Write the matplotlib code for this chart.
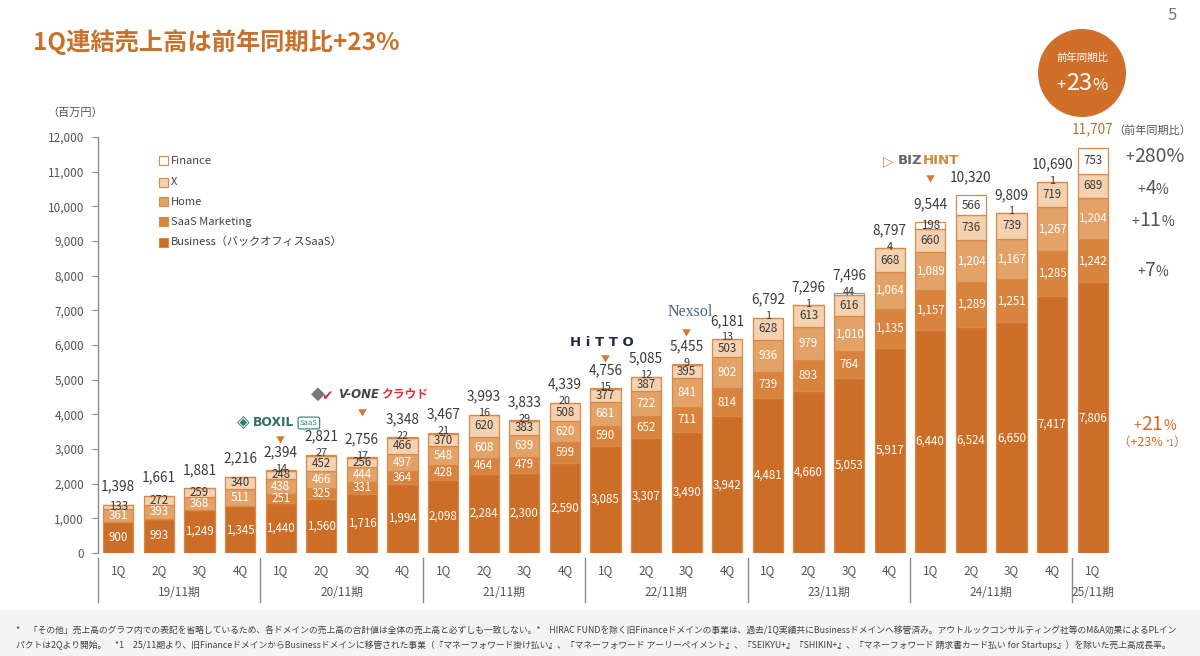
import matplotlib
matplotlib.use("Agg")
import matplotlib.pyplot as plt
import matplotlib.patches as mpatches
import matplotlib.transforms as mtrans
from matplotlib.offsetbox import TextArea, HPacker, AnnotationBbox
import numpy as np

plt.rcParams['font.family'] = ['Noto Sans CJK JP', 'DejaVu Sans']

# ---------------- data ----------------
periods = ['19/11期', '20/11期', '21/11期', '22/11期', '23/11期', '24/11期', '25/11期']
period_sizes = [4, 4, 4, 4, 4, 4, 1]
quarters = ['1Q', '2Q', '3Q', '4Q'] * 6 + ['1Q']

business = [900, 993, 1249, 1345, 1440, 1560, 1716, 1994, 2098, 2284, 2300, 2590,
            3085, 3307, 3490, 3942, 4481, 4660, 5053, 5917, 6440, 6524, 6650, 7417, 7806]
saas_mkt = [0, 0, 0, 0, 251, 325, 331, 364, 428, 464, 479, 599,
            590, 652, 711, 814, 739, 893, 764, 1135, 1157, 1289, 1251, 1285, 1242]
home = [361, 393, 368, 511, 438, 466, 444, 497, 548, 608, 639, 620,
        681, 722, 841, 902, 936, 979, 1010, 1064, 1089, 1204, 1167, 1267, 1204]
x_dom = [133, 272, 259, 340, 248, 452, 256, 466, 370, 620, 383, 508,
         377, 387, 395, 503, 628, 613, 616, 668, 660, 736, 739, 719, 689]
finance = [0, 0, 0, 0, 14, 27, 17, 22, 21, 16, 29, 20,
           15, 12, 9, 13, 1, 1, 44, 4, 198, 566, 1, 1, 753]
totals = [1398, 1661, 1881, 2216, 2394, 2821, 2756, 3348, 3467, 3993, 3833, 4339,
          4756, 5085, 5455, 6181, 6792, 7296, 7496, 8797, 9544, 10320, 9809, 10690, 11707]

series_names = ['Business（バックオフィスSaaS）', 'SaaS Marketing', 'Home', 'X', 'Finance']
series_vals = [business, saas_mkt, home, x_dom, finance]
yoy_labels = [('+', '7', '%'), ('+', '11', '%'), ('+', '4', '%'), ('+', '280', '%')]  # SaaS Mkt, Home, X, Finance
yoy_business = ('+', '21', '%')
yoy_business_adj = '（+23% '
yticks = list(range(0, 12001, 1000))

# ---------------- style ----------------
colors = ['#CD6E28', '#D8843F', '#E3A368', '#F3D1B1', '#FFFFFF']
label_colors = ['white', 'white', 'white', '#3a3a3a', '#3a3a3a']
edge = '#DA8A48'
orange = '#CF6F2A'
gray_txt = '#555555'

W, H = 1200, 656
fig = plt.figure(figsize=(12, 6.56), dpi=100)
fig.patch.set_facecolor('white')


def fx(x):
    return x / W


def fy(y):
    return 1 - y / H


ax_left, ax_right, ax_top, ax_bot = 98, 1113, 137, 553
ax = fig.add_axes([fx(ax_left), fy(ax_bot), (ax_right - ax_left) / W, (ax_bot - ax_top) / H])
ax.set_facecolor('none')

n = len(totals)
xs = np.arange(n)
bw = 0.74
bottom = np.zeros(n)
for k, vals in enumerate(series_vals):
    v = np.array(vals, dtype=float)
    ax.bar(xs, v, bw, bottom=bottom, color=colors[k], edgecolor=edge, linewidth=0.9, zorder=2)
    for i in range(n):
        if v[i] > 0:
            yc = bottom[i] + v[i] / 2
            fs = 8.3
            if k == 4 and v[i] < 100:
                yc = bottom[i] + v[i] + 45
                fs = 7.8
            ax.text(xs[i], yc, f'{int(v[i]):,}', ha='center', va='center',
                    fontsize=fs, color=label_colors[k], zorder=4)
    bottom += v

for i in range(n):
    col = '#3a3a3a'
    if i == n - 1:
        col = '#B8733A'
    ax.annotate(f'{totals[i]:,}', (xs[i], bottom[i]), xytext=(0, 8), textcoords='offset points',
                ha='center', va='bottom', fontsize=9.8, color=col,
                annotation_clip=False)

ax.set_xlim(-0.5, n - 0.5)
ax.set_ylim(0, 12000)
for s in ['top', 'right', 'bottom']:
    ax.spines[s].set_visible(False)
ax.spines['left'].set_color('#8a8a8a')
ax.spines['left'].set_linewidth(1.0)
ax.set_yticks(yticks)
ax.set_yticklabels([f'{t:,}' for t in yticks], fontsize=8.5, color=gray_txt)
ax.tick_params(axis='y', length=4, color='#8a8a8a', pad=6)
ax.set_xticks([])

# category axis
trans = mtrans.blended_transform_factory(ax.transData, ax.transAxes)
for i in range(n):
    ax.text(xs[i], -0.041, quarters[i], transform=trans, ha='center', va='center',
            fontsize=8.5, color=gray_txt)
start = 0
seps = [-0.5]
for p, sz in zip(periods, period_sizes):
    ax.text(start + (sz - 1) / 2, -0.094, p, transform=trans, ha='center', va='center',
            fontsize=8.5, color=gray_txt)
    start += sz
    if start < n:
        seps.append(start - 0.5)
for sx in seps:
    ax.plot([sx, sx], [-0.012, -0.118], transform=trans, color='#8a8a8a', lw=1.0, clip_on=False)

# unit
fig.text(fx(75), fy(113), '（百万円）', ha='center', va='center', fontsize=8, color=gray_txt)

# legend
leg_y = [161, 182, 202, 222, 242]
leg_order = [4, 3, 2, 1, 0]
for yy, k in zip(leg_y, leg_order):
    fig.add_artist(mpatches.Rectangle((fx(159), fy(yy + 4.5)), 9 / W, 9 / H, facecolor=colors[k],
                                      edgecolor=edge, linewidth=0.8, transform=fig.transFigure))
    fig.text(fx(171), fy(yy), series_names[k], ha='left', va='center', fontsize=8, color='#404040')

# title
fig.text(fx(33), fy(42), '1Q連結売上高は前年同期比+23%', ha='left', va='center',
         fontsize=17.5, color='#C8712C', fontweight='bold')
fig.text(fx(1172), fy(15), '5', ha='center', va='center', fontsize=12, color='#777777')

# circle
fig.add_artist(mpatches.Ellipse((fx(1082), fy(73)), 88 / W, 88 / H, facecolor=orange,
                                edgecolor='none', transform=fig.transFigure))
fig.text(fx(1082), fy(58), '前年同期比', ha='center', va='center', fontsize=7.5, color='white')


def mixed(parts, xy, color, anchor=(0.5, 0.5)):
    boxes = [TextArea(t, textprops=dict(fontsize=s, color=color)) for t, s in parts]
    pk = HPacker(children=boxes, align='baseline', pad=0, sep=0)
    ab = AnnotationBbox(pk, (fx(xy[0]), fy(xy[1])), xycoords='figure fraction',
                        frameon=False, box_alignment=anchor, pad=0)
    fig.add_artist(ab)


mixed([('+', 12), ('23', 17), ('%', 12)], (1082, 84), 'white')

fig.text(fx(1152), fy(131), '（前年同期比）', ha='center', va='center', fontsize=8, color=gray_txt)

yoy_y = [270, 221, 188, 157]
for (a, b, c), yy in zip(yoy_labels, yoy_y):
    if len(b) >= 3:
        mixed([(a, 11), (b + c, 14)], (1155, yy), gray_txt)
    else:
        mixed([(a, 10), (b, 14), (c, 10)], (1153, yy), gray_txt)
mixed([(yoy_business[0], 10), (yoy_business[1], 14), (yoy_business[2], 10)], (1155, 424), orange)
mixed([(yoy_business_adj, 9), ('*1', 6), ('）', 9)], (1152, 442), orange)

# acquisition markers (triangles) and logos
tri = [(4, 441), (6, 414), (12, 360), (14, 334), (20, 180)]
for i, yy in tri:
    xpx = ax_left + (i + 0.5) * (ax_right - ax_left) / n
    fig.text(fx(xpx), fy(yy), '▼', ha='center', va='center', fontsize=6.5, color='#D07A35')

# BOXIL SaaS
fig.text(fx(243), fy(423), '◈', ha='center', va='center', fontsize=12, color='#2E7D75',
         family=['DejaVu Sans'])
fig.text(fx(253), fy(423), 'BOXIL', ha='left', va='center', fontsize=8.8, color='#2E6E68',
         fontweight='bold', family=['DejaVu Sans'])
fig.text(fx(300), fy(423), 'SaaS', ha='left', va='center', fontsize=5.5, color='#2E7D75',
         bbox=dict(boxstyle='round,pad=0.25', fc='white', ec='#2E7D75', lw=0.8))
# V-ONE クラウド
fig.text(fx(318), fy(394), '◆', ha='center', va='center', fontsize=13, color='#777777',
         family=['DejaVu Sans'])
fig.text(fx(327), fy(396), '✔', ha='center', va='center', fontsize=10, color='#D8323A',
         family=['DejaVu Sans'])
fig.text(fx(338), fy(394), 'V-ONE', ha='left', va='center', fontsize=8.5, color='#444444',
         fontweight='bold', style='italic', family=['DejaVu Sans'])
fig.text(fx(381), fy(394), 'クラウド', ha='left', va='center', fontsize=8.5, color='#D8323A',
         fontweight='bold')
# HiTTO
fig.text(fx(602), fy(343), 'H i T T O', ha='center', va='center', fontsize=9.5, color='#1B2A4A',
         fontweight='bold', family=['DejaVu Sans'])
# Nexsol
fig.text(fx(690), fy(312), 'Nexsol', ha='center', va='center', fontsize=11.5, color='#4F6180',
         family=['Liberation Serif', 'DejaVu Serif'])
# BIZHINT
fig.text(fx(888), fy(161), '▷', ha='center', va='center', fontsize=10, color='#C98A4A',
         family=['DejaVu Sans'])
fig.text(fx(898), fy(161), 'BIZ', ha='left', va='center', fontsize=9.5, color='#666666',
         fontweight='bold', family=['DejaVu Sans'])
fig.text(fx(923), fy(161), 'HINT', ha='left', va='center', fontsize=9.5, color='#D08A3A',
         fontweight='bold', family=['DejaVu Sans'])

# footer
fig.add_artist(mpatches.Rectangle((0, 0), 1, (H - 610) / H, facecolor='#F4F4F4', edgecolor='none',
                                  transform=fig.transFigure, zorder=0))
foot1 = ('*　「その他」売上高のグラフ内での表記を省略しているため、各ドメインの売上高の合計値は全体の売上高と必ずしも一致しない。'
         '*　HIRAC FUNDを除く旧Financeドメインの事業は、過去/1Q実績共にBusinessドメインへ移管済み。'
         'アウトルックコンサルティング社等のM&A効果によるPLイン')
foot2 = ('パクトは2Qより開始。　*1　25/11期より、旧FinanceドメインからBusinessドメインに移管された事業'
         '（『マネーフォワード掛け払い』、『マネーフォワード アーリーペイメント』、『SEIKYU+』『SHIKIN+』、'
         '『マネーフォワード 請求書カード払い for Startups』）を除いた売上高成長率。')
fig.text(fx(16), fy(630), foot1, ha='left', va='center', fontsize=6.35, color='#404040')
fig.text(fx(16), fy(645), foot2, ha='left', va='center', fontsize=6.35, color='#404040')

fig.savefig('out.png', dpi=100, facecolor='white')
